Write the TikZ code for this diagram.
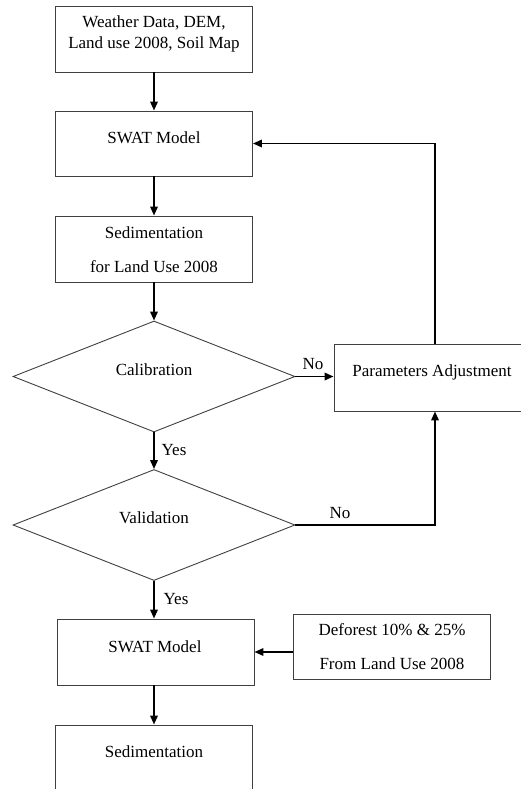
\documentclass[tikz,border=0pt]{standalone}
\usepackage{fontspec}
\setmainfont{Liberation Serif}
\usetikzlibrary{arrows.meta,shapes.geometric}
\begin{document}
\begin{tikzpicture}[x=1pt,y=-1pt,
  box/.style={draw=black!75,line width=0.9pt,rectangle,inner sep=0pt,fill=white},
  dia/.style={draw=black!75,line width=0.9pt,diamond,inner sep=0pt,minimum width=282pt,minimum height=111pt},
  txt/.style={inner sep=0pt,align=center,font=\fontsize{17}{21}\selectfont},
  arr/.style={line width=1.8pt,-{Triangle[length=9pt,width=7.5pt]}},
  lin/.style={line width=1.8pt}]
\useasboundingbox (0,0) rectangle (521,789);
\clip (0,0) rectangle (521,789);
% boxes
\node[box,minimum width=197pt,minimum height=66pt] (b1) at (154,39) {};
\node[box,minimum width=197pt,minimum height=65pt] (b2) at (154,143.5) {};
\node[box,minimum width=197pt,minimum height=66pt] (b3) at (154,249) {};
\node[dia] (d1) at (154,376.5) {};
\node[dia] (d2) at (154,525) {};
\node[box,minimum width=196pt,minimum height=67pt] (pa) at (432,377.5) {};
\node[box,minimum width=197pt,minimum height=66pt] (b5) at (155.5,652) {};
\node[box,minimum width=197pt,minimum height=65pt] (df) at (391.5,646.5) {};
\node[box,minimum width=197pt,minimum height=90pt] (b6) at (154,770) {};
% texts
\node[txt] (t1) at (154,33.5) {Weather Data, DEM,\\Land use 2008, Soil Map};
\node[txt] (t2) at (154,138) {SWAT Model};
\node[txt] (t3a) at (154,233) {Sedimentation};
\node[txt] (t3b) at (154,267) {for Land Use 2008};
\node[txt] (t4) at (154,370) {Calibration};
\node[txt] (t5) at (154,518) {Validation};
\node[txt] (t6) at (432,372) {Parameters Adjustment};
\node[txt] (t7) at (155,647) {SWAT Model};
\node[txt] (t8a) at (392,630) {Deforest 10\% \& 25\%};
\node[txt] (t8b) at (392,664) {From Land Use 2008};
\node[txt] (t9) at (154,752) {Sedimentation};
\node[txt] (no1) at (313,364) {No};
\node[txt] (no2) at (340,513) {No};
\node[txt] (yes1) at (174,450) {Yes};
\node[txt] (yes2) at (176,599) {Yes};
% connectors
\draw[arr] (b1.south) -- (b2.north);
\draw[arr] (b2.south) -- (b3.north);
\draw[arr] (b3.south) -- (d1.north);
\draw[arr] (d1.east) -- (pa.west |- d1.east);
\draw[arr] (d1.south) -- (d2.north);
\draw[arr] ([xshift=3pt]pa.north) |- (b2.east);
\draw[arr] (d2.east) -| ([xshift=3pt]pa.south);
\draw[arr] (d2.south) -- (d2.south |- b5.north);
\draw[arr] (df.west |- b5.east) -- (b5.east);
\draw[arr] (b5.south -| b6.north) -- (b6.north);
\end{tikzpicture}
\end{document}
